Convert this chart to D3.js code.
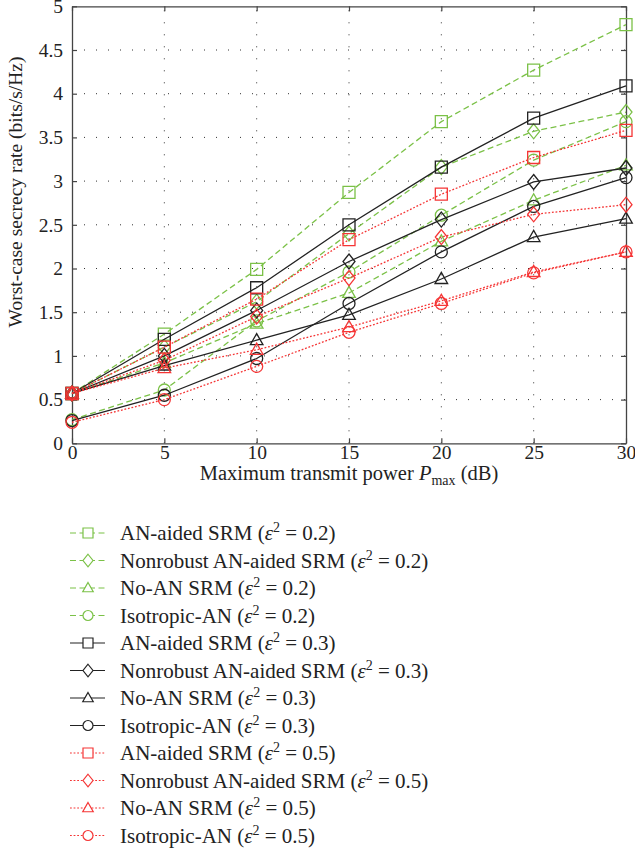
<!DOCTYPE html>
<html>
<head>
<meta charset="utf-8">
<script src="https://cdn.jsdelivr.net/npm/d3@7"></script>
<style>
  body { margin: 0; background: #fff; }
</style>
</head>
<body>
<script>
// x values (dB) and y ticks
var powers = [0, 5, 10, 15, 20, 25, 30];
var yTicks = [0, 0.5, 1, 1.5, 2, 2.5, 3, 3.5, 4, 4.5, 5];

// eps^2 = 0.2
var anAided02 = [0.57, 1.25, 1.99, 2.87, 3.68, 4.27, 4.79];
var nonrobust02 = [0.57, 1.1, 1.62, 2.4, 3.16, 3.57, 3.79];
var noAN02 = [0.57, 0.92, 1.37, 1.72, 2.31, 2.78, 3.18];
var isotropic02 = [0.27, 0.61, 1.4, 1.96, 2.61, 3.24, 3.68];
// eps^2 = 0.3
var anAided03 = [0.57, 1.19, 1.78, 2.5, 3.16, 3.72, 4.09];
var nonrobust03 = [0.57, 1.0, 1.52, 2.08, 2.56, 2.99, 3.15];
var noAN03 = [0.57, 0.89, 1.18, 1.47, 1.88, 2.36, 2.57];
var isotropic03 = [0.26, 0.55, 0.97, 1.6, 2.19, 2.71, 3.04];
// eps^2 = 0.5
var anAided05 = [0.57, 1.1, 1.65, 2.33, 2.85, 3.27, 3.58];
var nonrobust05 = [0.57, 0.95, 1.45, 1.89, 2.36, 2.62, 2.73];
var noAN05 = [0.57, 0.86, 1.07, 1.33, 1.63, 1.96, 2.19];
var isotropic05 = [0.24, 0.5, 0.88, 1.27, 1.6, 1.95, 2.19];

var schemes = ["AN-aided SRM", "Nonrobust AN-aided SRM", "No-AN SRM", "Isotropic-AN"];
var markers = ["square", "diamond", "triangle", "circle"];

var styles = {
  "0.2": { color: "#7bc147", dash: "6,3.5" },
  "0.3": { color: "#222222", dash: null },
  "0.5": { color: "#f53535", dash: "1.8,1.8" },
};

var series = [
  { name: schemes[0], eps: "0.2", marker: markers[0], values: anAided02 },
  { name: schemes[1], eps: "0.2", marker: markers[1], values: nonrobust02 },
  { name: schemes[2], eps: "0.2", marker: markers[2], values: noAN02 },
  { name: schemes[3], eps: "0.2", marker: markers[3], values: isotropic02 },
  { name: schemes[0], eps: "0.3", marker: markers[0], values: anAided03 },
  { name: schemes[1], eps: "0.3", marker: markers[1], values: nonrobust03 },
  { name: schemes[2], eps: "0.3", marker: markers[2], values: noAN03 },
  { name: schemes[3], eps: "0.3", marker: markers[3], values: isotropic03 },
  { name: schemes[0], eps: "0.5", marker: markers[0], values: anAided05 },
  { name: schemes[1], eps: "0.5", marker: markers[1], values: nonrobust05 },
  { name: schemes[2], eps: "0.5", marker: markers[2], values: noAN05 },
  { name: schemes[3], eps: "0.5", marker: markers[3], values: isotropic05 },
];

var W = 635, H = 850;
var mLeft = 72, mRight = 626, mTop = 6.3, mBottom = 443.3;
var serif = "Liberation Serif";

var svg = d3.select("body").append("svg").attr("width", W).attr("height", H);

var x = d3.scaleLinear().domain([0, 30]).range([mLeft, mRight]);
var y = d3.scaleLinear().domain([0, 5]).range([mBottom, mTop]);

// marker shapes
function markerPath(type, s) {
  var h = s / 2;
  if (type == "square") return "M" + -h + "," + -h + "h" + s + "v" + s + "h" + -s + "Z";
  if (type == "diamond") return "M0," + -h * 1.25 + "L" + h + ",0L0," + h * 1.25 + "L" + -h + ",0Z";
  if (type == "triangle") return "M0," + -h * 1.1 + "L" + h * 1.05 + "," + h * 0.75 + "L" + -h * 1.05 + "," + h * 0.75 + "Z";
  return d3.arc()({ innerRadius: 0, outerRadius: h, startAngle: 0, endAngle: 2 * Math.PI });
}

// grid
var grid = svg.append("g");
grid.selectAll(".hg")
  .data(yTicks.slice(1, -1))
  .enter()
  .append("line")
  .attr("x1", mLeft).attr("x2", mRight)
  .attr("y1", (d) => y(d)).attr("y2", (d) => y(d))
  .attr("stroke", "#333")
  .attr("stroke-width", 1)
  .attr("stroke-dasharray", "1,11");
grid.selectAll(".vg")
  .data(powers.slice(1, -1))
  .enter()
  .append("line")
  .attr("y1", mBottom).attr("y2", mTop)
  .attr("x1", (d) => x(d)).attr("x2", (d) => x(d))
  .attr("stroke", "#333")
  .attr("stroke-width", 1)
  .attr("stroke-dasharray", "1,11");

// axes (ticks inward, box)
var xAxis = svg.append("g")
  .attr("transform", "translate(0," + mBottom + ")")
  .call(d3.axisBottom(x).tickValues(powers).tickSizeInner(-5).tickSizeOuter(0).tickPadding(2));
var xTop = svg.append("g")
  .attr("transform", "translate(0," + mTop + ")")
  .call(d3.axisTop(x).tickValues(powers).tickSizeInner(-5).tickSizeOuter(0).tickFormat(""));
var yAxis = svg.append("g")
  .attr("transform", "translate(" + mLeft + ",0)")
  .call(d3.axisLeft(y).tickValues(yTicks).tickSizeInner(-5).tickSizeOuter(0).tickPadding(9).tickFormat(d3.format("")));
var yRight = svg.append("g")
  .attr("transform", "translate(" + mRight + ",0)")
  .call(d3.axisRight(y).tickValues(yTicks).tickSizeInner(-5).tickSizeOuter(0).tickFormat(""));

[xAxis, xTop, yAxis, yRight].forEach(function (a) {
  a.select(".domain").attr("stroke", "#444").attr("stroke-width", 1.3);
  a.selectAll(".tick line").attr("stroke", "#444").attr("stroke-width", 1.2);
  a.selectAll("text")
    .style("font-family", serif)
    .style("font-size", "19.5px")
    .attr("fill", "#222");
});

// lines and markers
var line = d3.line()
  .x((d, i) => x(powers[i]))
  .y((d) => y(d));

var plot = svg.append("g");
series.forEach(function (s) {
  var st = styles[s.eps];
  plot.append("path")
    .attr("d", line(s.values))
    .attr("fill", "none")
    .attr("stroke", st.color)
    .attr("stroke-width", 1.3)
    .attr("stroke-dasharray", st.dash);
  plot.selectAll(null)
    .data(s.values)
    .enter()
    .append("path")
    .attr("d", markerPath(s.marker, 12))
    .attr("transform", (d, i) => "translate(" + x(powers[i]) + "," + y(d) + ")")
    .attr("fill", "none")
    .attr("stroke", st.color)
    .attr("stroke-width", 1.3);
});

// axis titles
var xl = svg.append("text")
  .attr("x", (mLeft + mRight) / 2)
  .attr("y", 480)
  .attr("text-anchor", "middle")
  .attr("fill", "#222")
  .style("font-family", serif)
  .style("font-size", "20.5px");
xl.append("tspan").text("Maximum transmit power ");
xl.append("tspan").style("font-style", "italic").text("P");
xl.append("tspan").style("font-size", "14px").attr("dy", 5).text("max");
xl.append("tspan").attr("dy", -5).text(" (dB)");

svg.append("text")
  .attr("transform", "translate(22,192) rotate(-90)")
  .attr("text-anchor", "middle")
  .attr("fill", "#222")
  .style("font-family", serif)
  .style("font-size", "19.5px")
  .text("Worst-case secrecy rate (bits/s/Hz)");

// legend
var legend = svg.append("g");
series.forEach(function (s, i) {
  var st = styles[s.eps];
  var ly = 533 + i * 27.5;
  legend.append("line")
    .attr("x1", 70).attr("x2", 105)
    .attr("y1", ly).attr("y2", ly)
    .attr("stroke", st.color)
    .attr("stroke-width", 1.2)
    .attr("stroke-dasharray", st.dash);
  legend.append("path")
    .attr("d", markerPath(s.marker, 10))
    .attr("transform", "translate(88," + ly + ")")
    .attr("fill", "#fff")
    .attr("stroke", st.color)
    .attr("stroke-width", 1.2);
  var t = legend.append("text")
    .attr("x", 120)
    .attr("y", ly + 7)
    .attr("fill", "#222")
    .style("font-family", serif)
    .style("font-size", "21px");
  t.append("tspan").text(s.name + " (");
  t.append("tspan").style("font-style", "italic").text("ε");
  t.append("tspan").style("font-size", "14px").attr("dy", -8).text("2");
  t.append("tspan").attr("dy", 8).text(" = " + s.eps + ")");
});
</script>
</body>
</html>
